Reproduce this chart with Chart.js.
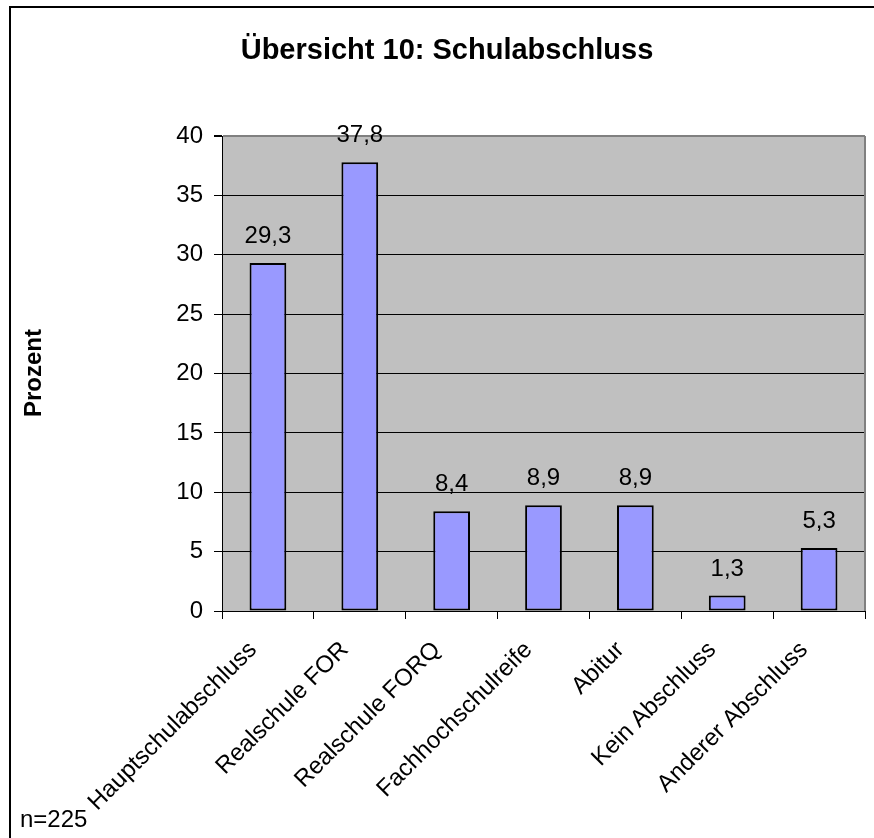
<!DOCTYPE html>
<html>
<head>
<meta charset="utf-8">
<script src="https://cdn.jsdelivr.net/npm/chart.js@4"></script>
<style>
    html, body { margin: 0; padding: 0; background: #fff; }
    #wrap { position: relative; width: 874px; height: 838px; }
</style>
</head>
<body>
<div id="wrap">
    <canvas id="myChart" width="874" height="838"></canvas>
</div>
<script>
// Daten aus der Übersicht
const categories = ['Hauptschulabschluss', 'Realschule FOR', 'Realschule FORQ', 'Fachhochschulreife', 'Abitur', 'Kein Abschluss', 'Anderer Abschluss'];
const prozent = [29.3, 37.8, 8.4, 8.9, 8.9, 1.3, 5.3];
const yTicks = [0, 5, 10, 15, 20, 25, 30, 35, 40];
const titleText = 'Übersicht 10: Schulabschluss';
const axisTitle = 'Prozent';
const noteText = 'n=225';

const FONT = '"Liberation Sans", Arial, sans-serif';

// Hintergrund, Rahmen, Beschriftungen
const decorPlugin = {
    id: 'decor',
    beforeDraw(chart) {
        const { ctx, chartArea: a } = chart;
        ctx.save();
        ctx.fillStyle = '#C0C0C0';
        ctx.fillRect(a.left, a.top, a.right - a.left, a.bottom - a.top);
        ctx.restore();
    },
    afterDatasetsDraw(chart) {
        const { ctx, chartArea: a } = chart;
        ctx.save();
        // rechter Rand grau
        ctx.strokeStyle = '#808080';
        ctx.lineWidth = 2;
        ctx.beginPath();
        ctx.moveTo(a.right, a.top);
        ctx.lineTo(a.right, a.bottom);
        ctx.stroke();

        // Werte über den Balken
        ctx.fillStyle = '#000';
        ctx.font = '24px ' + FONT;
        ctx.textAlign = 'center';
        ctx.textBaseline = 'alphabetic';
        chart.getDatasetMeta(0).data.forEach((bar, i) => {
            ctx.fillText(String(prozent[i]).replace('.', ','), bar.x, bar.y - 20);
        });

        // Titel
        ctx.font = 'bold 29px ' + FONT;
        ctx.fillText(titleText, 447, 59);

        // Achsentitel
        ctx.save();
        ctx.translate(41, 373);
        ctx.rotate(-Math.PI / 2);
        ctx.font = 'bold 24px ' + FONT;
        ctx.fillText(axisTitle, 0, 0);
        ctx.restore();

        // Fallzahl
        ctx.textAlign = 'left';
        ctx.font = '24px ' + FONT;
        ctx.fillText(noteText, 20, 827);

        // äußerer Rahmen
        ctx.strokeStyle = '#000';
        ctx.lineWidth = 2;
        ctx.beginPath();
        ctx.moveTo(874, 7);
        ctx.lineTo(10, 7);
        ctx.lineTo(10, 838);
        ctx.stroke();
        ctx.restore();
    }
};

const ctx = document.getElementById('myChart').getContext('2d');

new Chart(ctx, {
    type: 'bar',
    data: {
        labels: categories,
        datasets: [{
            data: prozent,
            backgroundColor: '#9999FF',
            borderColor: '#000',
            borderWidth: 2,
            borderSkipped: false,
            barPercentage: 0.4,
            categoryPercentage: 1
        }]
    },
    options: {
        responsive: false,
        animation: false,
        events: [],
        layout: { padding: { top: 136, left: 10, right: 9, bottom: 0 } },
        plugins: {
            legend: { display: false },
            title: { display: false },
            tooltip: { enabled: false }
        },
        scales: {
            x: {
                afterFit(scale) { scale.height = 227; },
                grid: {
                    drawOnChartArea: false,
                    drawTicks: true,
                    tickLength: 8,
                    color: '#000',
                    offset: true
                },
                border: { display: true, color: '#000', width: 1 },
                ticks: {
                    color: '#000',
                    font: { family: FONT, size: 24 },
                    minRotation: 45,
                    maxRotation: 45,
                    autoSkip: false,
                    padding: 17,
                    labelOffset: -15
                }
            },
            y: {
                min: 0,
                max: 40,
                afterFit(scale) { scale.width = 212; },
                afterBuildTicks(scale) { scale.ticks = yTicks.map(v => ({ value: v })); },
                grid: {
                    color: (c) => c.tick && c.tick.value === 40 ? '#808080' : '#000',
                    lineWidth: (c) => c.tick && c.tick.value === 40 ? 2 : 1,
                    tickColor: '#000',
                    tickLength: 8
                },
                border: { display: true, color: '#000', width: 1 },
                ticks: {
                    color: '#000',
                    font: { family: FONT, size: 24 },
                    padding: 11
                }
            }
        }
    },
    plugins: [decorPlugin]
});
</script>
</body>
</html>
